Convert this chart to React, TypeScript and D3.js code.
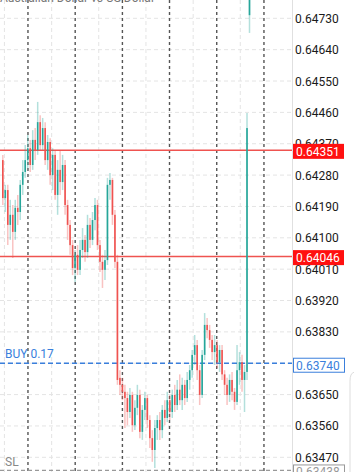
import React from "react";
import * as d3 from "d3";

const W = 354;
const H = 472;

const title = "Australian Dollar vs US Dollar";
const tickLabels = ["0.64730","0.64640","0.64550","0.64460","0.64370","0.64280","0.64190","0.64100","0.64010","0.63920","0.63830","0.63740","0.63650","0.63560","0.63470"];

const opens = [0.64323,0.64214,0.64237,0.64137,0.64166,0.64117,0.64186,0.64174,0.64252,0.64289,
0.64323,0.64357,0.64309,0.64381,0.64352,0.64432,0.64366,0.64415,0.64323,0.64375,
0.64280,0.64338,0.64223,0.64295,0.64260,0.64309,0.64194,0.64137,0.64079,0.64013,
0.64051,0.64008,0.64065,0.64094,0.64059,0.64137,0.64094,0.64151,0.64194,0.64079,
0.64031,0.64008,0.64036,0.64252,0.64266,0.64166,0.64031,0.63698,0.63678,0.63658,
0.63640,0.63600,0.63649,0.63562,0.63612,0.63649,0.63543,0.63606,0.63640,0.63577,
0.63525,0.63491,0.63554,0.63577,0.63548,0.63606,0.63583,0.63634,0.63600,0.63649,
0.63620,0.63664,0.63634,0.63678,0.63640,0.63692,0.63720,0.63764,0.63792,0.63720,
0.63649,0.63764,0.63850,0.63835,0.63807,0.63772,0.63792,0.63743,0.63778,0.63708,
0.63678,0.63649,0.63692,0.63658,0.63629,0.63720,0.63743,0.63692,0.63715,0.64739];
const closes = [0.64214,0.64237,0.64137,0.64166,0.64117,0.64186,0.64174,0.64252,0.64289,0.64323,
0.64357,0.64309,0.64381,0.64352,0.64432,0.64366,0.64415,0.64323,0.64375,0.64280,
0.64338,0.64223,0.64295,0.64260,0.64309,0.64194,0.64137,0.64079,0.64013,0.64051,
0.64008,0.64065,0.64094,0.64059,0.64137,0.64094,0.64151,0.64194,0.64079,0.64031,
0.64008,0.64036,0.64252,0.64266,0.64166,0.64031,0.63692,0.63678,0.63658,0.63640,
0.63600,0.63649,0.63562,0.63612,0.63649,0.63543,0.63606,0.63640,0.63577,0.63525,
0.63491,0.63554,0.63577,0.63548,0.63606,0.63583,0.63634,0.63600,0.63649,0.63620,
0.63664,0.63634,0.63678,0.63640,0.63692,0.63720,0.63764,0.63792,0.63720,0.63649,
0.63764,0.63850,0.63835,0.63807,0.63772,0.63792,0.63743,0.63778,0.63708,0.63678,
0.63649,0.63692,0.63658,0.63629,0.63720,0.63743,0.63692,0.63715,0.64415,0.64869];
const highs = [0.64338,0.64252,0.64252,0.64209,0.64194,0.64209,0.64223,0.64266,0.64323,0.64366,
0.64395,0.64381,0.64409,0.64415,0.64490,0.64452,0.64444,0.64432,0.64395,0.64386,
0.64357,0.64352,0.64323,0.64352,0.64338,0.64323,0.64209,0.64151,0.64094,0.64065,
0.64079,0.64094,0.64128,0.64108,0.64166,0.64157,0.64174,0.64214,0.64209,0.64094,
0.64051,0.64065,0.64272,0.64286,0.64272,0.64180,0.64051,0.63720,0.63698,0.63678,
0.63658,0.63669,0.63658,0.63634,0.63678,0.63664,0.63620,0.63658,0.63649,0.63591,
0.63548,0.63577,0.63591,0.63600,0.63620,0.63634,0.63658,0.63649,0.63664,0.63678,
0.63692,0.63708,0.63698,0.63692,0.63715,0.63735,0.63778,0.63821,0.63807,0.63735,
0.63778,0.63884,0.63870,0.63850,0.63821,0.63821,0.63807,0.63792,0.63792,0.63720,
0.63698,0.63708,0.63715,0.63669,0.63792,0.63772,0.63764,0.63735,0.64458,0.64897];
const lows = [0.64194,0.64174,0.64079,0.64094,0.64042,0.64094,0.64137,0.64151,0.64223,0.64272,
0.64300,0.64289,0.64295,0.64323,0.64338,0.64352,0.64352,0.64309,0.64295,0.64252,
0.64237,0.64209,0.64166,0.64223,0.64237,0.64166,0.64094,0.64051,0.63993,0.63973,
0.63993,0.63993,0.64042,0.64031,0.64042,0.64071,0.64079,0.64122,0.64065,0.64002,
0.63956,0.63979,0.64022,0.64209,0.64137,0.64013,0.63678,0.63649,0.63634,0.63554,
0.63562,0.63583,0.63543,0.63548,0.63591,0.63525,0.63520,0.63577,0.63554,0.63497,
0.63457,0.63439,0.63520,0.63520,0.63525,0.63562,0.63571,0.63577,0.63583,0.63600,
0.63606,0.63620,0.63606,0.63620,0.63629,0.63664,0.63698,0.63735,0.63692,0.63620,
0.63640,0.63749,0.63812,0.63784,0.63749,0.63735,0.63726,0.63715,0.63692,0.63649,
0.63620,0.63629,0.63634,0.63606,0.63620,0.63678,0.63658,0.63600,0.63692,0.64688];

const redLevels = [0.64351, 0.64046];
const buyLevel = 0.6374;
const buyText = "BUY 0.17";
const slLevel = 0.63438;
const slText = "SL";
const majorTimeGrid = [10.1, 29.05, 48.0, 66.9, 85.85, 104.8];
const minorTimeGrid = [0.65, 19.6, 38.5, 57.45, 76.4, 95.3];

const UP = "#26a69a";
const DOWN = "#ef5350";
const PLOT_R = 292.5;
const FONT = "Roboto, 'Noto Sans', sans-serif";

export default function App() {
  const n = opens.length;
  const x = d3.scaleLinear().domain([0, n - 1]).range([2.8, 249.5]);
  const y = d3.scaleLinear().domain([0.6347, 0.6473]).range([457.3, 18.3]);
  const fmt = d3.format(".5f");

  const boxX = 293;
  const boxW = 51;
  const boxH = 15;
  const buyLabel = fmt(buyLevel);

  return (
    <svg width={W} height={H} style={{ position: "absolute", left: 0, top: 0, background: "#fff" }} fontFamily={FONT}>
      <rect x={0} y={0} width={W} height={H} fill="#fff" />
      {tickLabels.map((t) => (
        <line key={"hg" + t} x1={0} x2={PLOT_R} y1={y(+t)} y2={y(+t)} stroke="#e4e4e4" strokeWidth={1} strokeDasharray="4,3" />
      ))}
      {minorTimeGrid.map((g) => (
        <line key={"mg" + g} x1={x(g)} x2={x(g)} y1={0} y2={H} stroke="#e4e4e4" strokeWidth={1} strokeDasharray="4,3" />
      ))}
      {majorTimeGrid.map((g) => (
        <line key={"Mg" + g} x1={x(g)} x2={x(g)} y1={0} y2={H} stroke="#555" strokeWidth={1.4} strokeDasharray="3,3" />
      ))}
      <text x={0} y={2} fontSize={12} fill="#777">{title}</text>
      {redLevels.map((l) => (
        <line key={"rl" + l} x1={0} x2={PLOT_R} y1={y(l)} y2={y(l)} stroke="#ef5350" strokeWidth={1.5} />
      ))}
      <line x1={0} x2={PLOT_R} y1={y(buyLevel)} y2={y(buyLevel)} stroke="#3a7fdc" strokeWidth={1.3} strokeDasharray="5,3" />
      <text x={5} y={y(buyLevel) - 5} fontSize={12} fill="#3a7fdc">{buyText}</text>
      <line x1={0} x2={PLOT_R} y1={y(slLevel) + 2} y2={y(slLevel) + 2} stroke="#999" strokeWidth={1.2} strokeDasharray="4,3" />
      <text x={5} y={y(slLevel) - 2} fontSize={12} fill="#888">{slText}</text>
      {opens.map((o, i) => {
        const c = closes[i];
        const col = c >= o ? UP : DOWN;
        const top = y(Math.max(o, c));
        const bot = y(Math.min(o, c));
        return (
          <g key={"c" + i}>
            <line x1={x(i)} x2={x(i)} y1={y(highs[i])} y2={y(lows[i])} stroke={col} strokeOpacity={0.35} strokeWidth={1.5} />
            <rect x={x(i) - 0.8} width={1.6} y={top} height={Math.max(1, bot - top)} fill={col} />
          </g>
        );
      })}
      <line x1={PLOT_R} x2={PLOT_R} y1={0} y2={H} stroke="#e0e0e0" strokeWidth={1} />
      {tickLabels.filter((t) => t !== buyLabel).map((t) => (
        <text key={"tl" + t} x={295} y={y(+t) + 4.5} fontSize={12} fill="#1a1a1a">{t}</text>
      ))}
      {redLevels.map((l) => (
        <g key={"rb" + l}>
          <rect x={boxX} y={y(l) + 1 - boxH / 2} width={boxW} height={boxH} fill="#ff1010" />
          <text x={boxX + 3} y={y(l) + 5.5} fontSize={12} fill="#fff">{fmt(l)}</text>
        </g>
      ))}
      <rect x={boxX + 0.5} y={y(buyLevel) + 2.5 - boxH / 2} width={boxW} height={boxH - 1} fill="#fff" stroke="#3a7fdc" strokeWidth={1} />
      <text x={boxX + 3} y={y(buyLevel) + 7} fontSize={12} fill="#3a7fdc">{buyLabel}</text>
      <rect x={boxX + 0.5} y={y(slLevel) - 3.5} width={boxW} height={boxH} fill="#fff" stroke="#999" strokeWidth={1} />
      <text x={boxX + 3} y={y(slLevel) + 8} fontSize={12} fill="#999">{fmt(slLevel)}</text>
      <path d={`M ${W} ${y(buyLevel) + 9} Q 350 ${y(buyLevel) + 10} 350 ${y(buyLevel) + 18} L 350 ${H}`} fill="none" stroke="#ddd" strokeWidth={1} />
    </svg>
  );
}
